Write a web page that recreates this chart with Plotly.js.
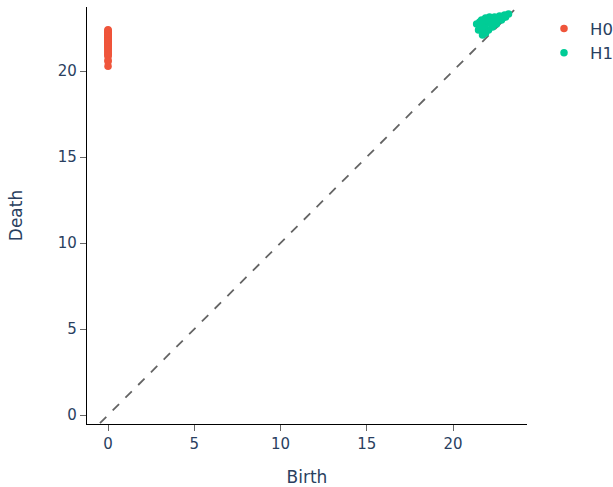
<!DOCTYPE html>
<html>
<head>
<meta charset="utf-8">
<script src="https://cdn.plot.ly/plotly-3.0.1.min.js"></script>
<style>html,body{margin:0;padding:0;background:#fff;}#chart{width:613px;height:487px;}</style>
</head>
<body>
<div id="chart"></div>
<script>
// H0 persistence pairs (birth, death)
var h0Birth = [0,0,0,0,0,0,0,0,0,0,0,0,0,0,0,0,0,0,0,0,0,0,0,0,0,0,0,0,0,0,0,0,0,0,0,0,0,0,0];
var h0Death = [22.40,22.35,22.31,22.27,22.22,22.18,22.15,22.11,22.08,22.04,22.00,21.97,21.93,21.90,21.86,21.82,21.79,21.75,21.71,21.68,21.64,21.60,21.57,21.53,21.49,21.45,21.41,21.36,21.30,21.25,21.18,21.12,21.05,20.98,20.92,20.86,20.62,20.55,20.28];
// H1 persistence pairs (birth, death)
var h1Birth = [21.37,21.48,21.71,21.89,21.66,21.89,22.12,22.41,22.70,22.99,23.22,22.29,22.52,22.81,23.05,22.06,21.83,22.12,22.41,21.66,21.55,22.60,22.90,21.95,22.25];
var h1Death = [22.73,22.38,22.09,22.21,22.97,23.08,23.14,23.14,23.20,23.26,23.31,22.56,22.73,22.97,23.14,22.38,22.62,22.79,22.91,22.50,22.85,23.05,23.10,22.95,22.70];
var diagMin = -0.47, diagMax = 23.78;
var xRange = [-1.22, 24.29];
var yRange = [-0.52, 23.72];

var traces = [
  {x:[diagMin, diagMax], y:[diagMin, diagMax], mode:'lines', showlegend:false, hoverinfo:'none',
   line:{dash:'dash', width:1.8, color:'rgb(100,100,100)'}},
  {x:h0Birth, y:h0Death, mode:'markers', name:'H0', marker:{color:'#EF553B', size:7.5}},
  {x:h1Birth, y:h1Death, mode:'markers', name:'H1', marker:{color:'#00CC96', size:7.5}}
];
var axisCommon = {type:'linear', autorange:false, ticks:'outside', ticklen:6,
  tickcolor:'#666', showline:true, linewidth:1.2, linecolor:'black', showgrid:false, zeroline:false,
  tickfont:{size:15, color:'#2a3f5f'}};
var layout = {
  width:613, height:487,
  margin:{l:87, r:86, t:7, b:63, autoexpand:false},
  font:{family:'"DejaVu Sans", Verdana, sans-serif', color:'#2a3f5f'},
  plot_bgcolor:'white', paper_bgcolor:'white',
  xaxis:Object.assign({}, axisCommon, {range:xRange, title:{text:'Birth', font:{size:17}, standoff:22}, dtick:5}),
  yaxis:Object.assign({}, axisCommon, {range:yRange, title:{text:'Death', font:{size:17}, standoff:30}, dtick:5}),
  legend:{font:{size:16.5}, x:1.025, y:0.99, itemwidth:42}
};
Plotly.newPlot('chart', traces, layout, {displayModeBar:false, staticPlot:true});
</script>
</body>
</html>
